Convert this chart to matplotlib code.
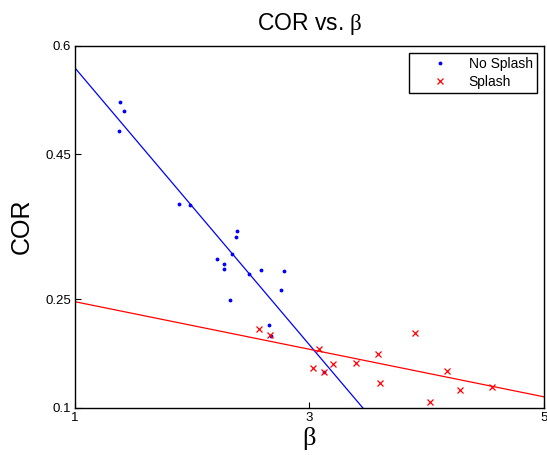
import numpy as np
import matplotlib
matplotlib.use('Agg')
import matplotlib.pyplot as plt

plt.rcParams['font.family'] = ['Liberation Sans', 'DejaVu Sans']
plt.rcParams['mathtext.fontset'] = 'custom'
plt.rcParams['mathtext.rm'] = 'Liberation Serif'

# data
beta_no_splash = [1.381, 1.415, 1.378, 1.887, 1.981, 2.379, 2.371, 2.336, 2.214, 2.268,
                  2.273, 2.484, 2.589, 2.785, 2.757, 2.325, 2.655, 2.669, 3.124]
cor_no_splash = [0.5217, 0.5101, 0.4817, 0.381, 0.380, 0.3441, 0.3359, 0.3120, 0.3051, 0.2982,
                 0.2917, 0.2848, 0.2908, 0.2890, 0.2623, 0.2486, 0.2145, 0.1997, 0.1492]

beta_splash = [2.569, 2.661, 3.902, 3.078, 3.584, 3.200, 3.397, 3.030, 3.124, 4.175,
               3.601, 4.281, 4.557, 4.028]
cor_splash = [0.2086, 0.2011, 0.2039, 0.1818, 0.1749, 0.1603, 0.1617, 0.1552, 0.1492, 0.1510,
              0.1345, 0.1244, 0.1294, 0.1079]

# fitted lines (slope, intercept)
fit_no_splash = (-0.191, 0.760)
fit_splash = (-0.0328, 0.2794)

x_ticks = [1, 3, 5]
y_ticks = [0.1, 0.25, 0.45, 0.6]

fig = plt.figure(figsize=(5.47, 4.55), dpi=100)
ax = fig.add_axes([0.1371, 0.1033, 0.8574, 0.7967])

xx = np.linspace(1, 5, 200)
ax.plot(xx, fit_no_splash[0] * xx + fit_no_splash[1], color='blue', lw=0.9)
ax.plot(xx, fit_splash[0] * xx + fit_splash[1], color='red', lw=0.9)
ax.plot(beta_no_splash, cor_no_splash, '.', color='blue', ms=3.5, label='No Splash')
ax.plot(beta_splash, cor_splash, 'x', color='red', ms=4.8, mew=0.9, label='Splash')

ax.set_xlim(1, 5)
ax.set_ylim(0.1, 0.6)
ax.set_xticks(x_ticks)
ax.set_xticklabels(['1', '3', '5'])
ax.set_yticks(y_ticks)
ax.set_yticklabels(['0.1', '0.25', '0.45', '0.6'])
ax.tick_params(direction='in', length=4, labelsize=9.5, top=False, right=False, pad=3)
for s in ax.spines.values():
    s.set_linewidth(1)

ax.set_title(r'COR vs. $\mathrm{\beta}$', fontsize=16.5, pad=11)
ax.set_xlabel('β', fontsize=19, family='Liberation Serif', labelpad=2)
ax.set_ylabel('COR', fontsize=18, labelpad=8)

leg = ax.legend(loc='upper right', bbox_to_anchor=(0.985, 0.98), borderaxespad=0,
                fancybox=False, edgecolor='black', framealpha=1, fontsize=10,
                handlelength=3.9, handletextpad=0.1, borderpad=0.3, labelspacing=0.3)
leg.get_frame().set_linewidth(1)

fig.savefig('out.png', dpi=100)
